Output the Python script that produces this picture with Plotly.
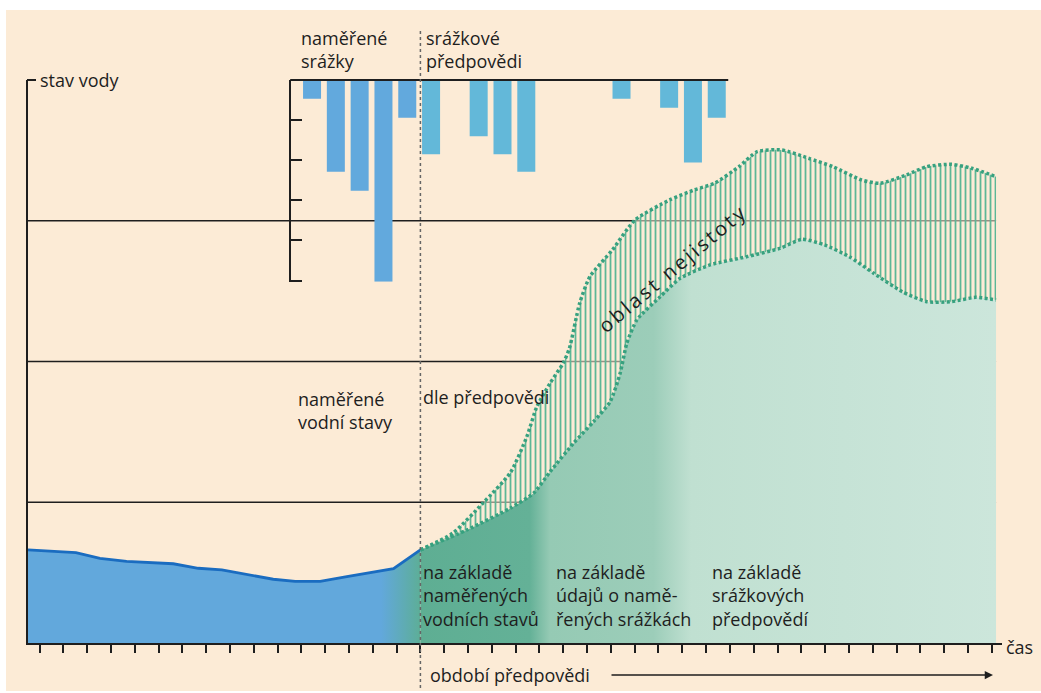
import plotly.graph_objects as go

# ---------------- data ----------------
# time steps (x axis ticks 0..40), forecast starts at step 16
tick_steps = list(range(41))
forecast_start = 16
level_grid = [1, 2, 3]

# measured water level (blue area)
t_measured = [-0.483, 1.53, 2.54, 3.66, 5.62, 6.67, 7.66, 8.84, 9.82, 10.74, 11.79, 12.91, 13.89, 14.87, 16]
level_measured = [0.661, 0.642, 0.602, 0.580, 0.563, 0.531, 0.519, 0.481, 0.453, 0.438, 0.438, 0.471, 0.502, 0.528, 0.661]

# lower bound of forecast (green filled area)
t_lower = [16, 17.95, 19.77, 20.75, 21.45, 22.43, 23.27, 23.97, 24.39, 24.67, 25.09, 26.07, 26.91, 28.17,
           29.72, 31.10, 32.04, 32.98, 34.01, 35.04, 36.24, 37.27, 38.30, 39.33, 40.18]
level_lower = [0.661, 0.803, 0.957, 1.064, 1.217, 1.419, 1.572, 1.714, 1.916, 2.129, 2.295, 2.460, 2.591, 2.686,
               2.745, 2.804, 2.868, 2.828, 2.745, 2.627, 2.496, 2.425, 2.425, 2.456, 2.437]

# upper bound of forecast (uncertainty band)
t_upper = [16, 17.37, 18.63, 19.77, 20.47, 20.89, 21.45, 22.0, 22.26, 22.69, 23.12, 24.06, 25.01, 26.47, 27.50,
           28.35, 29.38, 30.15, 31.18, 32.30, 33.33, 34.53, 35.30, 36.41, 37.27, 38.30, 39.16, 40.18]
level_upper = [0.661, 0.782, 0.995, 1.208, 1.466, 1.679, 1.847, 1.989, 2.094, 2.414, 2.603, 2.792, 3.005, 3.148, 3.219,
               3.266, 3.384, 3.491, 3.503, 3.444, 3.384, 3.290, 3.266, 3.325, 3.384, 3.401, 3.373, 3.313]

# precipitation (hanging bars)
rain_measured_t = [11, 12, 13, 14, 15]
rain_measured = [0.47, 2.29, 2.76, 5.03, 0.94]
rain_forecast_t = [16, 18, 19, 20, 24, 26, 27, 28]
rain_forecast = [1.85, 1.40, 1.85, 2.29, 0.47, 0.69, 2.06, 0.94]
rain_ticks = [0, 1, 2, 3, 4, 5]

# ---------------- styling / layout helpers ----------------
W, H = 1041, 693
L, R, T, B = 28, 1002, 80, 643          # plot area in pixels
X_MIN, X_MAX = -0.483, 40.43
BG = "#FCEBD6"
INK = "#1E1E1E"
FONT = "Open Sans"


def px(x):
    return (x - L) / (R - L)


def py(y):
    return (B - y) / (B - T)


def tx(t):
    return (t - X_MIN) / (X_MAX - X_MIN)


fig = go.Figure()

# measured water level
fig.add_trace(go.Scatter(
    x=t_measured, y=level_measured, mode="lines",
    line=dict(color="#1A6CC0", width=2.8),
    fill="tozeroy",
    fillgradient=dict(type="horizontal", start=X_MIN, stop=16,
                      colorscale=[[0, "#62A8DC"], [0.90, "#62A8DC"], [1, "#5DAE97"]]),
    hoverinfo="skip", showlegend=False,
))

# forecast lower bound (filled green area)
fig.add_trace(go.Scatter(
    x=t_lower, y=level_lower, mode="lines",
    line=dict(color="#37A17F", width=3.5, dash="3px,2.5px", shape="spline", smoothing=0.6),
    fill="tozeroy",
    fillgradient=dict(type="horizontal", start=16, stop=40.18,
                      colorscale=[[0, "#5EAE93"], [0.19, "#64B197"], [0.225, "#95CAB4"],
                                  [0.405, "#9CCDB9"], [0.47, "#C0E0D1"], [1, "#CCE6DB"]]),
    hoverinfo="skip", showlegend=False,
))

# forecast upper bound (hatched uncertainty band)
fig.add_trace(go.Scatter(
    x=t_upper, y=level_upper, mode="lines",
    line=dict(color="#37A17F", width=3.5, dash="3px,2.5px", shape="spline", smoothing=0.6),
    fill="tonexty",
    fillcolor="rgba(252,235,214,0.5)",
    fillpattern=dict(shape="|", fgcolor="#5DB796", bgcolor="rgba(252,235,214,0.55)",
                     size=5, solidity=0.36, fillmode="replace"),
    hoverinfo="skip", showlegend=False,
))

# precipitation bars
fig.add_trace(go.Bar(
    x=rain_measured_t, y=rain_measured, xaxis="x", yaxis="y2",
    width=0.756, offset=0.07, marker=dict(color="#62A9DD", line=dict(width=0)),
    hoverinfo="skip", showlegend=False,
))
fig.add_trace(go.Bar(
    x=rain_forecast_t, y=rain_forecast, xaxis="x", yaxis="y2",
    width=0.756, offset=0.07, marker=dict(color="#63B8D9", line=dict(width=0)),
    hoverinfo="skip", showlegend=False,
))

shapes = []
# horizontal level lines (behind the fills)
for lv in level_grid:
    shapes.append(dict(type="line", xref="paper", yref="y", layer="below",
                       x0=0, x1=tx(40.18), y0=lv, y1=lv, line=dict(color=INK, width=1.5)))
# white page border (top / left / bottom)
for x0, y0, x1, y1 in [(0, 0, W, 10), (0, 0, 6, H), (0, 691, W, H)]:
    shapes.append(dict(type="rect", xref="paper", yref="paper",
                       x0=px(x0), x1=px(x1), y0=py(y1), y1=py(y0),
                       fillcolor="white", line=dict(width=0), layer="above"))
# small tick at top of y axis
shapes.append(dict(type="line", xref="paper", yref="paper",
                   x0=px(L - 1), x1=px(36), y0=1, y1=1, line=dict(color=INK, width=2)))
# precipitation top line
shapes.append(dict(type="line", xref="paper", yref="paper",
                   x0=tx(10.53), x1=tx(28.93), y0=1, y1=1, line=dict(color=INK, width=2)))
# dotted forecast-start line
shapes.append(dict(type="line", xref="paper", yref="paper",
                   x0=tx(forecast_start), x1=tx(forecast_start), y0=py(688), y1=py(28),
                   line=dict(color="#666666", width=1.5, dash="dot")))

txt = dict(family=FONT, size=18, color=INK)


def label(text, x, y, xanchor="left", **kw):
    return dict(text=text, xref="paper", yref="paper", x=px(x), y=py(y),
                xanchor=xanchor, yanchor="middle", showarrow=False, align="left",
                font=txt, **kw)


annotations = [
    label("stav vody", 38, 80),
    label("naměřené<br>srážky", 299, 50),
    label("srážkové<br>předpovědi", 424, 50),
    label("naměřené<br>vodní stavy", 296, 410),
    label("dle předpovědi", 421, 397),
    label("na základě<br>naměřených<br>vodních stavů", 421, 595),
    label("na základě<br>údajů o namě-<br>řených srážkách", 554, 595),
    label("na základě<br>srážkových<br>předpovědí", 710, 595),
    label("období předpovědi", 428, 675),
    label("čas", 1004, 647),
    dict(text='<span style="letter-spacing:2.8px">oblast nejistoty</span>',
         xref="paper", yref="paper", x=px(672), y=py(268),
         xanchor="center", yanchor="middle", showarrow=False, textangle=-40,
         font=dict(family=FONT, size=20, color=INK)),
    dict(text="", xref="paper", yref="paper", x=px(993), y=py(675),
         ax=-383, ay=0, showarrow=True, arrowhead=2, arrowsize=1.1, arrowwidth=1.5,
         arrowcolor=INK),
]

fig.update_layout(
    width=W, height=H, autosize=False,
    margin=dict(l=L, r=W - R, t=T, b=H - B, pad=0),
    paper_bgcolor=BG, plot_bgcolor="rgba(0,0,0,0)",
    barmode="overlay",
    xaxis=dict(range=[X_MIN, X_MAX], showline=True, linecolor=INK, linewidth=2,
               ticks="outside", tickvals=tick_steps, ticklen=8, tickwidth=1.5, tickcolor=INK,
               showticklabels=False, showgrid=False, zeroline=False, fixedrange=True),
    yaxis=dict(range=[0, 4], showline=True, linecolor=INK, linewidth=2,
               ticks="", showticklabels=False,
               showgrid=False, zeroline=False, fixedrange=True),
    yaxis2=dict(domain=[py(281.7), 1], range=[5.03, 0], anchor="free", position=tx(10.53),
                showline=True, linecolor=INK, linewidth=2,
                tickvals=rain_ticks, ticks="inside", ticklen=11, tickwidth=2, tickcolor=INK,
                showticklabels=False, showgrid=False, zeroline=False, fixedrange=True),
    shapes=shapes,
    annotations=annotations,
    showlegend=False,
)

fig.write_html("out.html", config={"displayModeBar": False},
               post_script="document.body.style.margin='0';document.body.style.overflow='hidden';")
